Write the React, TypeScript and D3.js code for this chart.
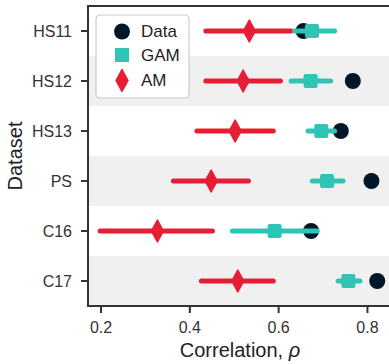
import React from "react";
import * as d3 from "d3";

// datasets top to bottom
const datasets = ["HS11", "HS12", "HS13", "PS", "C16", "C17"];

// observed correlation
const dataValues = [0.656, 0.767, 0.74, 0.809, 0.673, 0.822];

// GAM estimate + interval
const gamMid = [0.675, 0.672, 0.696, 0.709, 0.591, 0.757];
const gamLo = [0.636, 0.628, 0.666, 0.676, 0.496, 0.734];
const gamHi = [0.726, 0.717, 0.726, 0.745, 0.687, 0.783];

// AM estimate + interval
const amMid = [0.534, 0.52, 0.502, 0.448, 0.327, 0.508];
const amLo = [0.436, 0.436, 0.416, 0.363, 0.198, 0.426];
const amHi = [0.628, 0.604, 0.588, 0.532, 0.451, 0.588];

const xTicks = [0.2, 0.4, 0.6, 0.8];

const C_DATA = "#011627";
const C_GAM = "#2ec4b6";
const C_AM = "#e71d36";
const FONT = "Liberation Sans, Arial, sans-serif";

export default function App() {
  const width = 389;
  const height = 364;
  const margin = { top: 6, right: -4, bottom: 58, left: 88 };
  const innerW = width - margin.left - margin.right;
  const innerH = height - margin.top - margin.bottom;

  const x = d3.scaleLinear().domain([0.1707, 0.8575]).range([0, innerW]);
  const y = d3.scaleBand().domain(datasets).range([0, innerH]);
  const cy = (d: string) => (y(d) as number) + y.bandwidth() / 2;

  const diamond = (cx: number, c: number, w = 6, h = 11) =>
    `M${cx},${c - h}L${cx + w},${c}L${cx},${c + h}L${cx - w},${c}Z`;

  return (
    <svg width={width} height={height} style={{ position: "absolute", left: 0, top: 0 }}>
      <g transform={`translate(${margin.left},${margin.top})`}>
        {/* alternating bands */}
        {datasets.map((d, i) =>
          i % 2 === 1 ? (
            <rect key={d} x={0} y={y(d)} width={innerW} height={y.bandwidth()} fill="#f0f0f0" />
          ) : null
        )}

        {/* AM */}
        {datasets.map((d, i) => (
          <g key={"am" + d}>
            <line x1={x(amLo[i])} x2={x(amHi[i])} y1={cy(d)} y2={cy(d)} stroke={C_AM} strokeWidth={5} strokeLinecap="round" />
            <path d={diamond(x(amMid[i]), cy(d))} fill={C_AM} stroke={C_AM} strokeWidth={1.5} strokeLinejoin="round" />
          </g>
        ))}

        {/* Data */}
        {datasets.map((d, i) => (
          <circle key={"dt" + d} cx={x(dataValues[i])} cy={cy(d)} r={8} fill={C_DATA} />
        ))}

        {/* GAM */}
        {datasets.map((d, i) => (
          <g key={"gam" + d}>
            <line x1={x(gamLo[i])} x2={x(gamHi[i])} y1={cy(d)} y2={cy(d)} stroke={C_GAM} strokeWidth={5} strokeLinecap="round" />
            <rect x={x(gamMid[i]) - 7} y={cy(d) - 7} width={14} height={14} rx={2} fill={C_GAM} />
          </g>
        ))}

        {/* spines */}
        <line x1={0} x2={innerW + 10} y1={0} y2={0} stroke="#333" strokeWidth={2} />
        <line x1={0} x2={0} y1={-1} y2={innerH + 1} stroke="#333" strokeWidth={2} />
        <line x1={-1} x2={innerW + 10} y1={innerH} y2={innerH} stroke="#333" strokeWidth={2} />

        {/* x axis ticks */}
        {xTicks.map((t) => (
          <g key={t} transform={`translate(${x(t)},${innerH})`}>
            <line y1={0} y2={7} stroke="#333" strokeWidth={2} />
            <text y={27} textAnchor="middle" fontFamily={FONT} fontSize={16} fill="#333">
              {t.toFixed(1)}
            </text>
          </g>
        ))}

        {/* y axis ticks */}
        {datasets.map((d) => (
          <g key={"yt" + d} transform={`translate(0,${cy(d)})`}>
            <line x1={-7} x2={0} stroke="#333" strokeWidth={2} />
            <text x={-16} dy="0.35em" textAnchor="end" fontFamily={FONT} fontSize={16} fill="#333">
              {d}
            </text>
          </g>
        ))}

        {/* legend */}
        <g transform="translate(8,9)">
          <rect x={0} y={0} width={93} height={83} rx={4} fill="white" stroke="#cccccc" strokeWidth={1.2} />
          <circle cx={26} cy={16.5} r={8} fill={C_DATA} />
          <text x={45} y={16.5} dy="0.35em" fontFamily={FONT} fontSize={17} fill="#222">Data</text>
          <rect x={19} y={33} width={14} height={14} fill={C_GAM} />
          <text x={45} y={40} dy="0.35em" fontFamily={FONT} fontSize={17} fill="#222">GAM</text>
          <path d={diamond(26, 65.5)} fill={C_AM} stroke={C_AM} strokeWidth={1.5} strokeLinejoin="round" />
          <text x={45} y={65.5} dy="0.35em" fontFamily={FONT} fontSize={17} fill="#222">AM</text>
        </g>
      </g>

      {/* axis labels */}
      <text x={240} y={357} textAnchor="middle" fontFamily={FONT} fontSize={20} fill="#222">
        Correlation, <tspan fontStyle="italic">ρ</tspan>
      </text>
      <text transform={`translate(22,${margin.top + innerH / 2}) rotate(-90)`} textAnchor="middle" fontFamily={FONT} fontSize={20} fill="#222">
        Dataset
      </text>
    </svg>
  );
}
